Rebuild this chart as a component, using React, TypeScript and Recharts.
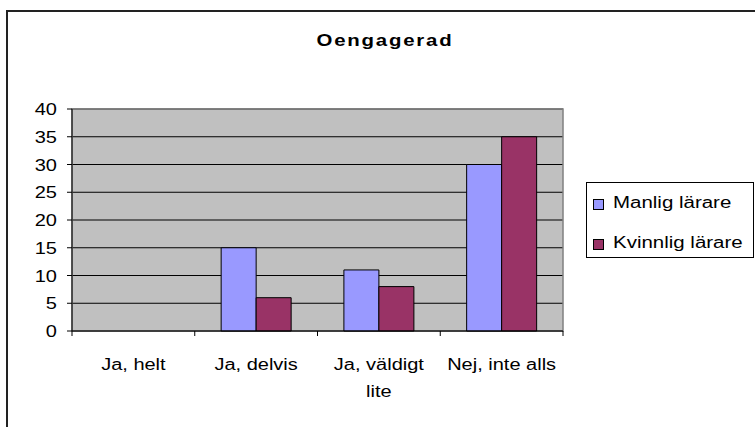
import React from "react";
import { BarChart, Bar, XAxis, YAxis, CartesianGrid, Legend, ReferenceArea } from "recharts";

const categories = ["Ja, helt", "Ja, delvis", "Ja, väldigt lite", "Nej, inte alls"];
const manligLarare = [0, 15, 11, 30];
const kvinnligLarare = [0, 6, 8, 35];
const yTicks = [0, 5, 10, 15, 20, 25, 30, 35, 40];
const seriesNames = ["Manlig lärare", "Kvinnlig lärare"];
const seriesColors = ["#9999FF", "#993366"];
const title = "Oengagerad";

const data = categories.map((c, i) => ({ name: c, m: manligLarare[i], k: kvinnligLarare[i] }));

const FONT = "'Liberation Sans', Arial, sans-serif";
const FS = 16;
const SX = 1.25;

function wrap(label: string, maxChars = 14): string[] {
  if (label.length <= maxChars) return [label];
  const idx = label.lastIndexOf(" ");
  return [label.slice(0, idx), label.slice(idx + 1)];
}

const XTick = (props: any) => {
  const { x, y, payload, index, width, visibleTicksCount } = props;
  const band = (width || 491) / (visibleTicksCount || 4);
  const lines = wrap(String(payload.value));
  return (
    <g>
      <line x1={x - band / 2} y1={y} x2={x - band / 2} y2={y + 5} stroke="#000" />
      {index === (visibleTicksCount || 4) - 1 && (
        <line x1={x + band / 2} y1={y} x2={x + band / 2} y2={y + 5} stroke="#000" />
      )}
      {lines.map((ln, i) => (
        <text
          key={i}
          transform={`translate(${x},${y + 39 + i * 27}) scale(${SX},1)`}
          textAnchor="middle"
          fontFamily={FONT}
          fontSize={FS}
          fill="#000"
        >
          {ln}
        </text>
      ))}
    </g>
  );
};

const YTick = (props: any) => {
  const { x, y, payload } = props;
  return (
    <text
      transform={`translate(${x},${y + 6}) scale(${SX},1)`}
      textAnchor="end"
      fontFamily={FONT}
      fontSize={FS}
      fill="#000"
    >
      {payload.value}
    </text>
  );
};

const LegendBox = () => (
  <svg width={168} height={76} style={{ display: "block" }}>
    <rect x={0.5} y={0.5} width={167} height={75} fill="#fff" stroke="#000" />
    {seriesNames.map((n, i) => (
      <g key={n}>
        <rect x={7.5} y={17.5 + i * 40} width={10} height={10} fill={seriesColors[i]} stroke="#000" />
        <text
          transform={`translate(27,${26 + i * 40}) scale(1.28,1)`}
          fontFamily={FONT}
          fontSize={FS}
          fill="#000"
        >
          {n}
        </text>
      </g>
    ))}
  </svg>
);

export default function App() {
  return (
    <div style={{ position: "absolute", left: 0, top: 0, width: 755, height: 427, background: "#fff", overflow: "hidden" }}>
      <div
        style={{
          position: "absolute",
          left: 6,
          top: 10,
          width: 800,
          height: 500,
          borderTop: "2px solid #222",
          borderLeft: "2px solid #222",
        }}
      />
      <div style={{ position: "absolute", left: 0, top: 0 }}>
        <BarChart
          width={755}
          height={427}
          data={data}
          margin={{ top: 109, right: 192, bottom: 36, left: 12 }}
          barCategoryGap="21.5%"
          barGap={0}
        >
          <text
            transform={`translate(385,46) scale(1.2,1)`}
            textAnchor="middle"
            fontFamily={FONT}
            fontSize={17}
            fontWeight="bold"
            letterSpacing={1.5}
            fill="#000"
          >
            {title}
          </text>
          <CartesianGrid vertical={false} stroke="#000" fill="#C0C0C0" fillOpacity={1} />
          <ReferenceArea y1={0} y2={40} stroke="#808080" strokeWidth={1.5} fill="none" ifOverflow="extendDomain" />
          <XAxis
            dataKey="name"
            height={60}
            tick={<XTick />}
            tickLine={false}
            tickSize={0}
            tickMargin={0}
            axisLine={{ stroke: "#000" }}
            interval={0}
          />
          <YAxis
            width={60}
            domain={[0, 40]}
            ticks={yTicks}
            interval={0}
            tick={<YTick />}
            tickSize={5}
            tickMargin={10}
            tickLine={{ stroke: "#000" }}
            axisLine={{ stroke: "#000" }}
          />
          <Legend
            layout="vertical"
            align="center"
            verticalAlign="middle"
            content={<LegendBox />}
            wrapperStyle={{ left: 586, top: 182, width: 168, height: 76 }}
          />
          <Bar dataKey="m" name={seriesNames[0]} fill={seriesColors[0]} stroke="#000" strokeWidth={1} isAnimationActive={false} />
          <Bar dataKey="k" name={seriesNames[1]} fill={seriesColors[1]} stroke="#000" strokeWidth={1} isAnimationActive={false} />
        </BarChart>
      </div>
    </div>
  );
}
